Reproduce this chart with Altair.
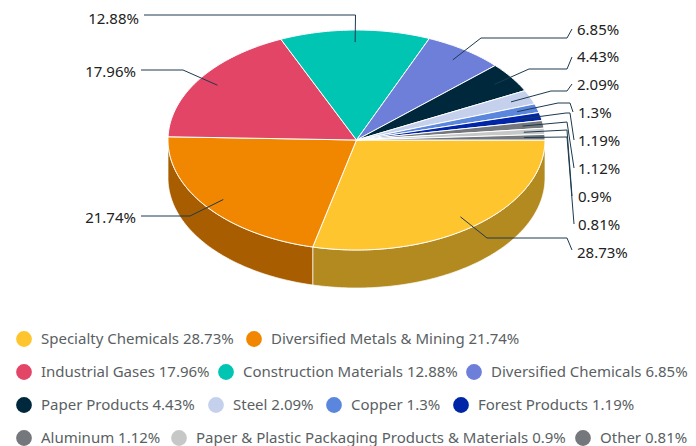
import math
import altair as alt
import pandas as pd

names = ["Specialty Chemicals", "Diversified Metals & Mining", "Industrial Gases", "Construction Materials",
         "Diversified Chemicals", "Paper Products", "Steel", "Copper", "Forest Products", "Aluminum",
         "Paper & Plastic Packaging Products & Materials", "Other"]
values = [28.73, 21.74, 17.96, 12.88, 6.85, 4.43, 2.09, 1.3, 1.19, 1.12, 0.9, 0.81]
colors = ["#ffc52e", "#f18700", "#e34566", "#00c5b3", "#6d7fd8", "#00283d", "#c5d1ec", "#5b86de",
          "#0025a6", "#74787c", "#c6c8c8", "#74787c"]
wall_colors = ["#b38a20", "#a85e00"]

# layout of the drawing, in page pixels
CX, CY, RX, RY, DEPTH = 356.5, 140.0, 188.5, 110.0, 38.0
FONT = "Noto Sans"
label_x = [577, 136, 136, 139, 577, 577, 577, 578, 578, 578, 578, 578]
label_y = [253, 218, 72, 18.5, 30, 57, 85, 113, 141, 169, 197, 225]
leader_bends = [
    [(487, 238), (567, 238), (572, 250)],
    [(190, 216), (141, 216)],
    [(183, 70), (141, 70)],
    [(355.5, 15), (144, 15)],
    [(481, 38), (567, 38), (572, 29)],
    [(529, 69), (567, 69), (572, 57)],
    [(551, 91), (567, 91), (572, 84)],
    [(558, 103), (570, 103), (573, 112)],
    [(566, 113), (570, 113), (574, 140)],
    [(567, 122), (574, 168)],
    [(567, 130), (572, 196)],
    [(567, 137), (574, 224)],
]
legend_row_y = [339, 339, 372, 372, 372, 405, 405, 405, 405, 438, 438, 438]
legend_dot_x = [24, 254, 24, 226, 474, 24, 216, 334, 461, 24, 179, 583]


def pt(deg, dy=0.0, k=1.0):
    a = math.radians(deg)
    return CX + k * RX * math.cos(a), CY + k * RY * math.sin(a) + dy


top, walls, leaders, labels, legend = [], [], [], [], []
cum = 0.0
for i, v in enumerate(values):
    a0, a1 = cum * 3.6, (cum + v) * 3.6
    cum += v
    # upper face
    n = max(2, int(a1 - a0) + 2)
    poly = [(CX, CY)] + [pt(a0 + (a1 - a0) * j / (n - 1)) for j in range(n)]
    for j, (x, y) in enumerate(poly):
        top.append(dict(id=i, o=j, x=x, y=y, c=colors[i]))
    # side wall
    if a0 < 180:
        b1 = min(a1, 180)
        n = int(b1 - a0) + 2
        angs = [a0 + (b1 - a0) * j / (n - 1) for j in range(n)]
        poly = [pt(t) for t in angs] + [pt(t, DEPTH) for t in reversed(angs)]
        for j, (x, y) in enumerate(poly):
            walls.append(dict(id=i, o=j, x=x, y=y, c=wall_colors[i]))
    # leader
    path = [pt((a0 + a1) / 2, k=0.89)] + leader_bends[i]
    for j, (x, y) in enumerate(path):
        leaders.append(dict(id=i, o=j, x=x, y=y))
    labels.append(dict(x=label_x[i], y=label_y[i], t=f"{v:g}%", a="right" if label_x[i] < CX else "left"))
    legend.append(dict(x=legend_dot_x[i], tx=legend_dot_x[i] + 17, y=legend_row_y[i], c=colors[i], t=f"{names[i]} {v:g}%"))

X_SCALE = alt.Scale(domain=[8, 688], range=[0, 680], nice=False, zero=False)
X = alt.X("x:Q", axis=None, scale=X_SCALE)
Y = alt.Y("y:Q", axis=None, scale=alt.Scale(domain=[8, 446], range=[0, 438], nice=False, zero=False))
C = alt.Color("c:N", scale=None)

wall_layer = alt.Chart(pd.DataFrame(walls)).mark_line(
    interpolate="linear-closed", filled=True, stroke="#ffffff", strokeWidth=1, strokeOpacity=0.7
).encode(x=X, y=Y, fill=alt.Fill("c:N", scale=None), detail="id:N", order="o:Q")
top_layer = alt.Chart(pd.DataFrame(top)).mark_line(
    interpolate="linear-closed", filled=True, stroke="#ffffff", strokeWidth=1
).encode(x=X, y=Y, fill=alt.Fill("c:N", scale=None), detail="id:N", order="o:Q")
leader_layer = alt.Chart(pd.DataFrame(leaders)).mark_line(color="#1c3a4e", strokeWidth=1).encode(
    x=X, y=Y, detail="id:N", order="o:Q")
ldf = pd.DataFrame(labels)
lab_r = alt.Chart(ldf[ldf.a == "left"]).mark_text(align="left", baseline="middle", font=FONT, fontSize=15, color="#222222").encode(x=X, y=Y, text="t:N")
lab_l = alt.Chart(ldf[ldf.a == "right"]).mark_text(align="right", baseline="middle", font=FONT, fontSize=15, color="#222222").encode(x=X, y=Y, text="t:N")
gdf = pd.DataFrame(legend)
dots = alt.Chart(gdf).mark_point(filled=True, size=250, opacity=1, shape="circle").encode(x=X, y=Y, color=C)
ltext = alt.Chart(gdf).mark_text(align="left", baseline="middle", font=FONT, fontSize=15, color="#5a5f63").encode(
    x=alt.X("tx:Q", axis=None, scale=X_SCALE), y=Y, text="t:N")

chart = alt.layer(wall_layer, top_layer, leader_layer, lab_r, lab_l, dots, ltext).properties(
    width=680, height=438, padding=0, autosize=alt.AutoSizeParams(type="none")
).configure_view(stroke=None)
chart.save("out.html", embed_options={"renderer": "svg", "actions": False})
